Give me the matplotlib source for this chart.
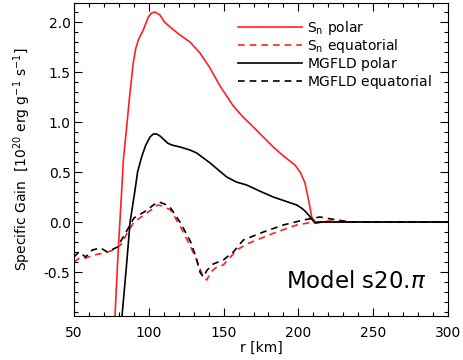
import numpy as np
import matplotlib
matplotlib.use("Agg")
import matplotlib.pyplot as plt
from matplotlib.ticker import MultipleLocator, FormatStrFormatter

# Sn polar (red solid)
r_sn_pol = [77.4, 79.5, 81.9, 83.0, 85.2, 87.4, 89.6, 91.2, 93.0, 96.3, 99.7, 101.8,
            104.1, 107.5, 110.5, 114.2, 117.5, 120.9, 127.5, 134.2, 140.9, 147.6,
            156.5, 163.0, 169.9, 176.5, 183.2, 190.0, 197.7, 201.5, 204.4, 206.8,
            208.9, 212.0, 216.0, 225.0, 300.0]
v_sn_pol = [-0.94, -0.30, 0.32, 0.62, 0.95, 1.29, 1.59, 1.73, 1.82, 1.92, 2.05, 2.09,
            2.10, 2.07, 2.00, 1.95, 1.91, 1.87, 1.80, 1.69, 1.54, 1.36,
            1.16, 1.05, 0.95, 0.85, 0.75, 0.66, 0.57, 0.49, 0.39, 0.22,
            0.05, -0.01, 0.0, 0.0, 0.0]

# MGFLD polar (black solid)
r_mg_pol = [82.1, 85.0, 87.5, 90.8, 92.5, 95.2, 98.0, 100.8, 103.0, 105.3, 107.5,
            109.7, 112.5, 115.3, 120.9, 127.5, 132.0, 136.5, 141.0, 146.5, 152.1,
            158.5, 165.4, 174.0, 183.2, 191.0, 198.9, 202.0, 204.4, 206.8, 208.9,
            211.0, 215.0, 225.0, 300.0]
v_mg_pol = [-0.94, -0.45, 0.0, 0.32, 0.50, 0.65, 0.77, 0.85, 0.88, 0.88, 0.86,
            0.83, 0.79, 0.77, 0.75, 0.72, 0.69, 0.64, 0.59, 0.52, 0.45,
            0.40, 0.37, 0.31, 0.25, 0.21, 0.17, 0.14, 0.11, 0.07, 0.03,
            -0.01, 0.0, 0.0, 0.0]

# Sn equatorial (red dashed)
r_sn_eq = [50.0, 54.5, 57.8, 63.4, 70.1, 76.7, 81.2, 85.6, 90.1, 96.8, 103.5, 106.0,
           109.0, 114.6, 121.3, 128.0, 132.0, 135.8, 138.7, 141.5, 145.4, 149.8,
           154.0, 158.8, 165.4, 172.1, 185.5, 198.9, 210.0, 221.1, 230.0, 300.0]
v_sn_eq = [-0.40, -0.35, -0.36, -0.33, -0.31, -0.28, -0.23, -0.11, 0.00, 0.07, 0.14, 0.17,
           0.16, 0.12, -0.05, -0.25, -0.38, -0.53, -0.58, -0.50, -0.45, -0.43,
           -0.36, -0.28, -0.22, -0.18, -0.10, -0.03, 0.00, 0.01, 0.0, 0.0]

# MGFLD equatorial (black dashed)
r_mg_eq = [50.0, 53.3, 57.8, 62.2, 67.8, 72.3, 79.0, 85.6, 90.1, 99.0, 103.0, 106.8,
           110.5, 114.6, 121.3, 128.0, 131.5, 134.2, 136.4, 139.0, 143.1, 149.8,
           156.5, 163.2, 176.6, 189.9, 203.3, 214.4, 225.6, 235.0, 300.0]
v_mg_eq = [-0.35, -0.30, -0.35, -0.28, -0.26, -0.30, -0.25, -0.08, 0.04, 0.12, 0.17, 0.20,
           0.18, 0.14, -0.01, -0.20, -0.35, -0.50, -0.55, -0.48, -0.42, -0.38,
           -0.30, -0.18, -0.10, -0.03, 0.02, 0.05, 0.02, 0.0, 0.0]

labels = [r"$\mathregular{S_n\ polar}$", r"$\mathregular{S_n\ equatorial}$",
          r"$\mathregular{MGFLD\ polar}$", r"$\mathregular{MGFLD\ equatorial}$"]

plt.rcParams['font.family'] = ['DejaVu Sans']
fig = plt.figure(figsize=(4.63, 3.60), dpi=100)
ax = fig.add_axes([74/463, 1-316/360, (448-74)/463, (316-3)/360])

lw = 1.2
red = '#ff2020'
kw = dict(lw=lw, solid_joinstyle='round', dash_joinstyle='round')
ax.plot(r_sn_pol, v_sn_pol, color=red, ls='-', label=labels[0], **kw)
ax.plot(r_sn_eq, v_sn_eq, color=red, ls=(0, (4, 3)), label=labels[1], **kw)
ax.plot(r_mg_pol, v_mg_pol, color='black', ls='-', label=labels[2], **kw)
ax.plot(r_mg_eq, v_mg_eq, color='black', ls=(0, (4, 3)), label=labels[3], **kw)

ax.set_xlim(50, 300)
ax.set_ylim(-0.94, 2.19)
ax.xaxis.set_major_locator(MultipleLocator(50))
ax.xaxis.set_minor_locator(MultipleLocator(10))
ax.yaxis.set_major_locator(MultipleLocator(0.5))
ax.yaxis.set_minor_locator(MultipleLocator(0.1))
ax.yaxis.set_major_formatter(FormatStrFormatter('%.1f'))
ax.tick_params(which='both', direction='in', top=True, right=True, labelsize=10)
ax.tick_params(which='major', length=6, width=0.8)
ax.tick_params(which='minor', length=3, width=0.8)
ax.tick_params(axis='x', which='major', pad=7)
ax.tick_params(axis='y', which='major', pad=2.5)
for s in ax.spines.values():
    s.set_linewidth(0.8)

ax.set_xlabel("r [km]", fontsize=10, labelpad=1)
ax.set_ylabel(r"Specific Gain  [10$^{20}$ erg g$^{-1}$ s$^{-1}$]", fontsize=10, labelpad=8)

leg = ax.legend(loc='upper right', frameon=False, fontsize=10, handlelength=4.6,
                handletextpad=0.4, labelspacing=0.0, borderaxespad=0.75)

ax.text(191.5, -0.66, r"Model s20.$\pi$", fontsize=16.5, ha='left', va='baseline')

fig.savefig("out.png", dpi=100)
